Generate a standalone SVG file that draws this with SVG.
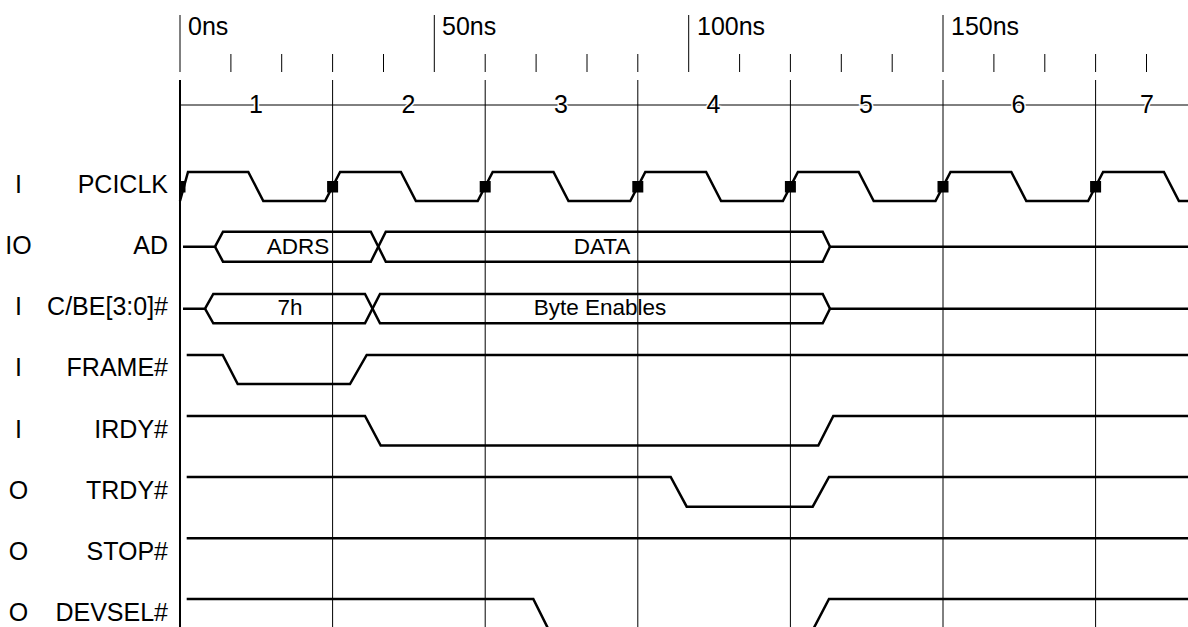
<svg xmlns="http://www.w3.org/2000/svg" width="1188" height="627" viewBox="0 0 1188 627">
<style>
  text { font-family: "Liberation Sans", Arial, Helvetica, sans-serif; fill: #000; }
  .lbl { font-size: 25px; text-anchor: end; }
  .dir { font-size: 25px; text-anchor: middle; }
  .ruler { font-size: 25px; }
  .cyc { font-size: 25px; text-anchor: middle; stroke: #fff; stroke-width: 3; paint-order: stroke; }
  .bus { font-size: 22.5px; text-anchor: middle; }
  .grid { stroke: #000; stroke-width: 1; fill: none; }
  .wave { stroke: #000; stroke-width: 2.5; fill: none; stroke-linejoin: miter; }
  .mk { fill: #000; }
</style>
<rect width="1188" height="627" fill="#fff"/>

<g id="ruler">
  <g class="grid">
    <line x1="180" y1="15" x2="180" y2="72"/>
    <line x1="434.3" y1="15" x2="434.3" y2="72"/>
    <line x1="688.7" y1="15" x2="688.7" y2="72"/>
    <line x1="943" y1="15" x2="943" y2="72"/>
    <line x1="230.9" y1="54" x2="230.9" y2="72"/>
    <line x1="281.7" y1="54" x2="281.7" y2="72"/>
    <line x1="332.6" y1="54" x2="332.6" y2="72"/>
    <line x1="383.5" y1="54" x2="383.5" y2="72"/>
    <line x1="485.2" y1="54" x2="485.2" y2="72"/>
    <line x1="536.1" y1="54" x2="536.1" y2="72"/>
    <line x1="587" y1="54" x2="587" y2="72"/>
    <line x1="637.8" y1="54" x2="637.8" y2="72"/>
    <line x1="739.6" y1="54" x2="739.6" y2="72"/>
    <line x1="790.4" y1="54" x2="790.4" y2="72"/>
    <line x1="841.3" y1="54" x2="841.3" y2="72"/>
    <line x1="892.2" y1="54" x2="892.2" y2="72"/>
    <line x1="993.9" y1="54" x2="993.9" y2="72"/>
    <line x1="1044.8" y1="54" x2="1044.8" y2="72"/>
    <line x1="1095.6" y1="54" x2="1095.6" y2="72"/>
    <line x1="1146.5" y1="54" x2="1146.5" y2="72"/>
  </g>
  <text class="ruler" x="188" y="35">0ns</text>
  <text class="ruler" x="442" y="35">50ns</text>
  <text class="ruler" x="697" y="35">100ns</text>
  <text class="ruler" x="951" y="35">150ns</text>
</g>

<g id="cycles">
  <line x1="180" y1="80" x2="180" y2="627" stroke="#000" stroke-width="2"/>
  <g class="grid">
    <line x1="180" y1="105" x2="1188" y2="105"/>
    <line x1="332.6" y1="80" x2="332.6" y2="627"/>
    <line x1="485.2" y1="80" x2="485.2" y2="627"/>
    <line x1="637.8" y1="80" x2="637.8" y2="627"/>
    <line x1="790.4" y1="80" x2="790.4" y2="627"/>
    <line x1="943" y1="80" x2="943" y2="627"/>
    <line x1="1095.6" y1="80" x2="1095.6" y2="627"/>
  </g>
  <text class="cyc" x="256" y="113">1</text>
  <text class="cyc" x="408.5" y="113">2</text>
  <text class="cyc" x="561" y="113">3</text>
  <text class="cyc" x="713.5" y="113">4</text>
  <text class="cyc" x="866" y="113">5</text>
  <text class="cyc" x="1018.5" y="113">6</text>
  <text class="cyc" x="1147" y="113">7</text>
</g>

<g id="sig-pciclk">
  <text class="dir" x="18.5" y="193">I</text>
  <text class="lbl" x="168" y="193">PCICLK</text>
  <polyline class="wave" points="180,201 188,172 248.3,172 263.3,201 325.1,201 340.1,172 400.9,172 415.9,201 477.7,201 492.7,172 553.5,172 568.5,201 630.3,201 645.3,172 706.1,172 721.1,201 782.9,201 797.9,172 858.7,172 873.7,201 935.5,201 950.5,172 1011.3,172 1026.3,201 1088.1,201 1103.1,172 1163.9,172 1178.9,201 1190,201"/>
  <rect class="mk" x="180" y="181" width="5.5" height="11.5"/>
  <rect class="mk" x="327.1" y="181" width="11" height="11.5"/>
  <rect class="mk" x="479.7" y="181" width="11" height="11.5"/>
  <rect class="mk" x="632.3" y="181" width="11" height="11.5"/>
  <rect class="mk" x="784.9" y="181" width="11" height="11.5"/>
  <rect class="mk" x="937.5" y="181" width="11" height="11.5"/>
  <rect class="mk" x="1090.1" y="181" width="11" height="11.5"/>
</g>

<g id="sig-ad">
  <text class="dir" x="18.5" y="253.5">IO</text>
  <text class="lbl" x="168" y="253.5">AD</text>
  <g class="wave">
    <polyline points="183,246.7 215,246.7 223,231.7 370.8,231.7 385.8,261.7 822.7,261.7 830,246.7 1190,246.7"/>
    <polyline points="215,246.7 223,261.7 370.8,261.7 385.8,231.7 822.7,231.7 830,246.7"/>
  </g>
  <text class="bus" x="298" y="254">ADRS</text>
  <text class="bus" x="602" y="254">DATA</text>
</g>

<g id="sig-cbe">
  <text class="dir" x="18.5" y="315">I</text>
  <text class="lbl" x="168" y="315">C/BE[3:0]#</text>
  <g class="wave">
    <polyline points="183,308.7 205,308.7 213.3,294 365,294 380,323.3 822.7,323.3 830,308.7 1190,308.7"/>
    <polyline points="205,308.7 213.3,323.3 365,323.3 380,294 822.7,294 830,308.7"/>
  </g>
  <text class="bus" x="290" y="314.5">7h</text>
  <text class="bus" x="600" y="314.5">Byte Enables</text>
</g>

<g id="sig-frame">
  <text class="dir" x="18.5" y="376">I</text>
  <text class="lbl" x="168" y="376">FRAME#</text>
  <polyline class="wave" points="186.7,355 222.7,355 237.7,384 350,384 366.7,355 1190,355"/>
</g>

<g id="sig-irdy">
  <text class="dir" x="18.5" y="437.5">I</text>
  <text class="lbl" x="168" y="437.5">IRDY#</text>
  <polyline class="wave" points="186.7,416 365,416 380.7,445.5 818.3,445.5 833.3,416 1190,416"/>
</g>

<g id="sig-trdy">
  <text class="dir" x="18.5" y="498.5">O</text>
  <text class="lbl" x="168" y="498.5">TRDY#</text>
  <polyline class="wave" points="186.7,477 670.7,477 686.7,506.7 812.7,506.7 829,477 1190,477"/>
</g>

<g id="sig-stop">
  <text class="dir" x="18.5" y="559.5">O</text>
  <text class="lbl" x="168" y="559.5">STOP#</text>
  <polyline class="wave" points="186.7,538.3 1190,538.3"/>
</g>

<g id="sig-devsel">
  <text class="dir" x="18.5" y="620.5">O</text>
  <text class="lbl" x="168" y="620.5">DEVSEL#</text>
  <polyline class="wave" points="186.7,599 533.3,599 548.3,629 813.3,629 829,599 1190,599"/>
</g>
</svg>
